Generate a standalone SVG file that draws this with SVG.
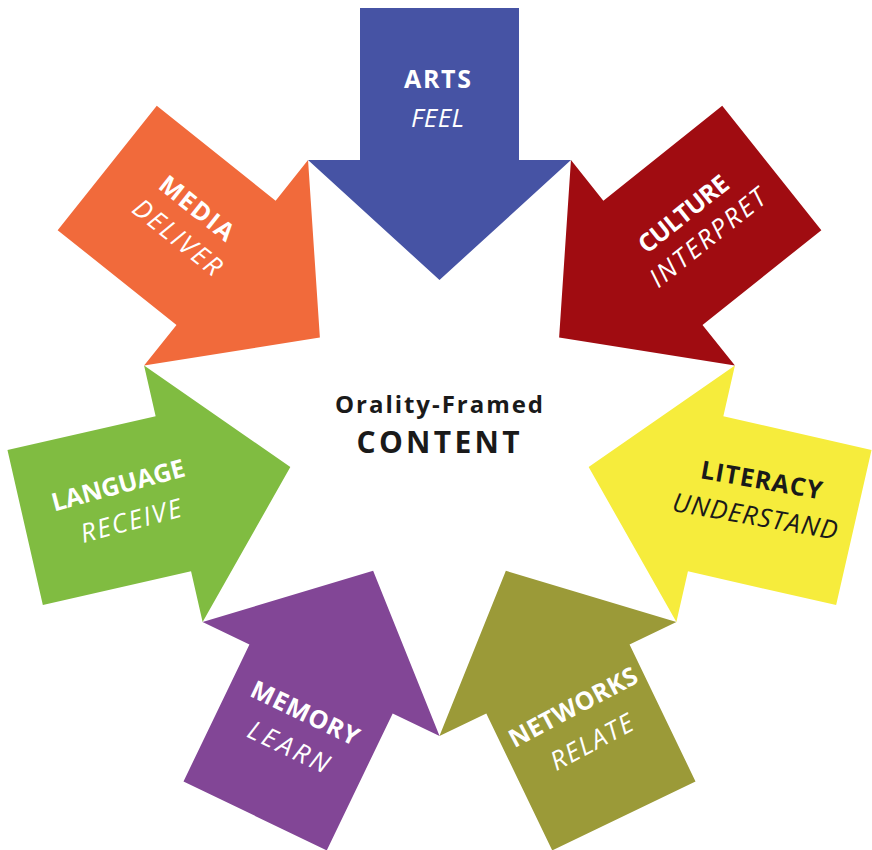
<svg xmlns="http://www.w3.org/2000/svg" width="872" height="850" viewBox="0 0 872 850">
<defs>
<path id="arrow" d="M -79.5,-425 L 79.5,-425 L 79.5,-273 L 131.5,-273 L 0,-153 L -131.5,-273 L -79.5,-273 Z"/>
</defs>
<style>
.t1{font-family:"Open Sans","Liberation Sans",sans-serif;font-weight:bold;font-size:25px;text-anchor:middle;fill:#fff}
.t2{font-family:"Open Sans","Liberation Sans",sans-serif;font-style:italic;font-size:26px;text-anchor:middle;fill:#fff}
.dark{fill:#1a1a1a}
.c1{font-family:"Open Sans","Liberation Sans",sans-serif;font-weight:bold;font-size:24px;text-anchor:middle;fill:#1a1a1a}
.c2{font-family:"Open Sans","Liberation Sans",sans-serif;font-weight:bold;font-size:30px;text-anchor:middle;fill:#1a1a1a}
</style>
<rect width="872" height="850" fill="#fff"/>
<g id="arts">
<use href="#arrow" transform="translate(439.5,433)" fill="#4653A4"/>
<g transform="translate(437.5,107.5)"><text class="t1" y="-19.5" textLength="67">ARTS</text><text class="t2" y="19.5" textLength="53">FEEL</text></g>
</g>
<g id="culture">
<use href="#arrow" transform="translate(439.5,433) rotate(51.43)" fill="#A00C11"/>
<g transform="translate(699.5,234) rotate(-38.6)"><text class="t1" y="-17" textLength="108">CULTURE</text><text class="t2" x="4" y="17" textLength="141">INTERPRET</text></g>
</g>
<g id="literacy">
<use href="#arrow" transform="translate(439.5,433) rotate(102.86)" fill="#F6EC3C"/>
<g transform="translate(756.8,507) rotate(10)"><text class="t1 dark" y="-18.5" textLength="123">LITERACY</text><text class="t2 dark" y="18.5" textLength="167">UNDERSTAND</text></g>
</g>
<g id="networks">
<use href="#arrow" transform="translate(439.5,433) rotate(154.29)" fill="#9B9A38"/>
<g transform="translate(586.5,732.5) rotate(-28)"><text class="t1" y="-20" textLength="142">NETWORKS</text><text class="t2" y="20" textLength="90">RELATE</text></g>
</g>
<g id="memory">
<use href="#arrow" transform="translate(439.5,433) rotate(205.71)" fill="#824696"/>
<g transform="translate(293,738) rotate(25.7)"><text class="t1" y="-19" textLength="117">MEMORY</text><text class="t2" y="19" textLength="87">LEARN</text></g>
</g>
<g id="language">
<use href="#arrow" transform="translate(439.5,433) rotate(257.14)" fill="#80BC41"/>
<g transform="translate(125.3,512) rotate(-15)"><text class="t1" y="-19" textLength="137">LANGUAGE</text><text class="t2" x="3" y="19" textLength="103">RECEIVE</text></g>
</g>
<g id="media">
<use href="#arrow" transform="translate(439.5,433) rotate(308.57)" fill="#F16A3B"/>
<g transform="translate(180.4,228.7) rotate(38.6)"><text class="t1" y="-17.5" textLength="88">MEDIA</text><text class="t2" x="3" y="17.5" textLength="106">DELIVER</text></g>
</g>
<g id="center">
<text class="c1" x="439" y="413" textLength="208">Orality-Framed</text>
<text class="c2" x="438" y="453" textLength="163">CONTENT</text>
</g>
<g id="connectors"></g>
</svg>
